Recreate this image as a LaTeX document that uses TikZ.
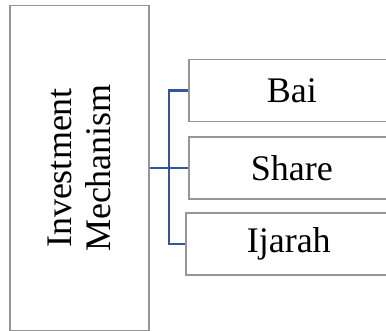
\documentclass[tikz,border=0pt]{standalone}
\usepackage{fontspec}
\setmainfont{Liberation Serif}
\usepackage{xcolor}
\definecolor{boxgrey}{RGB}{150,150,150}
\definecolor{linkblue}{RGB}{50,85,160}
\usepackage{tikz}
\usetikzlibrary{positioning,calc}

\begin{document}
\begin{tikzpicture}[
  x=1pt, y=-1pt,
  mechbox/.style={draw=boxgrey, line width=1.5pt, fill=white,
    minimum width=139pt, minimum height=325pt, inner sep=0pt,
    align=center, font=\fontsize{36}{39}\selectfont},
  itembox/.style={draw=boxgrey, line width=1.5pt, fill=white,
    minimum width=206pt, minimum height=62pt, inner sep=0pt,
    anchor=west, font=\fontsize{36}{39}\selectfont},
  link/.style={draw=linkblue, line width=2.2pt}
]
  \clip (0,0) rectangle (386,331);
  \fill[white] (0,0) rectangle (386,331);

  % Left: the parent box, text turned upright
  \node[mechbox] (mech) at (79.5,168) {};
  \node[rotate=90, align=center, font=\fontsize{36}{39}\selectfont,
        inner sep=0pt] (mechtext) at (mech.center) {Investment\\Mechanism};

  % Right: the three children
  \node[itembox] (bai) at (188,90.5) {Bai};
  \node[itembox] (share) at (188,168) {Share};
  \node[itembox] (ijarah) at (185,244) {Ijarah};

  % Connectors
  \coordinate (fork) at ($(mech.east)!0.5!(mech.east -| share.west)$);
  \draw[link] (mech.east) -- (mech.east -| share.west);
  \draw[link] (bai.west) -| (fork) |- (ijarah.west);
\end{tikzpicture}
\end{document}
